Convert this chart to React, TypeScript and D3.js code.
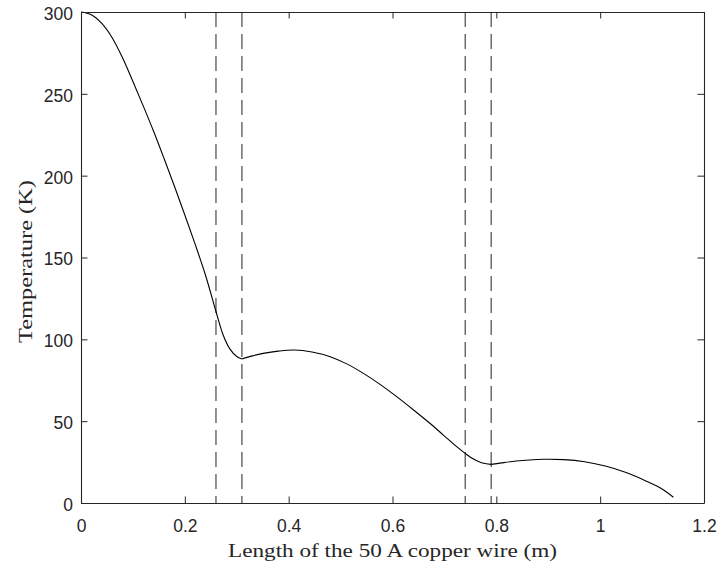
import { useEffect, useRef } from 'react';
import * as d3 from 'd3';

// temperature profile along the wire, split at the cusps (x in m, T in K)
const seg1X = [0, 0.02, 0.04, 0.06, 0.08, 0.1, 0.12, 0.14, 0.16, 0.18, 0.2, 0.22, 0.24, 0.26, 0.274, 0.287, 0.3, 0.31];
const seg1T = [300, 298.3, 293, 284.3, 272, 257.5, 242.5, 227, 210.5, 193.5, 176, 158, 139, 117, 102.5, 94, 89.5, 88];
const seg2X = [0.31, 0.33, 0.351, 0.38, 0.41, 0.445, 0.48, 0.512, 0.544, 0.576, 0.608, 0.64, 0.672, 0.698, 0.7236, 0.74, 0.755, 0.77, 0.79];
const seg2T = [88, 89.9, 91.4, 92.8, 93.5, 92.3, 89.4, 85, 79.2, 72.5, 65, 57, 48.7, 41.5, 34.4, 30.3, 27, 24.8, 23.6];
const seg3X = [0.79, 0.81, 0.85, 0.89, 0.93, 0.97, 1.01, 1.05, 1.09, 1.12, 1.141];
const seg3T = [23.6, 24.5, 26, 26.7, 26.5, 25.2, 22.6, 18.6, 13.2, 8.4, 3.5];

const boundaries = [0.26, 0.31, 0.74, 0.79];
const xTicks = [0, 0.2, 0.4, 0.6, 0.8, 1, 1.2];
const yTicks = [0, 50, 100, 150, 200, 250, 300];

const xLabel = 'Length of the 50 A copper wire (m)';
const yLabel = 'Temperature (K)';

export default function App() {
  const rootRef = useRef<SVGSVGElement | null>(null);

  useEffect(() => {
    const svgEl = rootRef.current;
    if (!svgEl) return undefined;
    const svg = d3.select(svgEl);
    svg.selectAll('*').remove();

    const width = 722;
    const height = 566;
    const margin = { top: 12, right: 18, bottom: 63, left: 81 };
    const chartWidth = width - margin.left - margin.right;
    const chartHeight = height - margin.top - margin.bottom;
    const axisColor = '#262626';
    const tickFont = '"Liberation Sans", Arial, Helvetica, sans-serif';

    const x = d3.scaleLinear().domain([0, 1.2]).range([0, chartWidth]);
    const y = d3.scaleLinear().domain([0, 300]).range([chartHeight, 0]);

    svg.append('rect').attr('width', width).attr('height', height).attr('fill', '#fff');
    const g = svg.append('g').attr('transform', `translate(${margin.left},${margin.top})`);

    // dashed boundaries
    g.selectAll('line.bound')
      .data(boundaries)
      .join('line')
      .attr('class', 'bound')
      .attr('x1', d => x(d))
      .attr('x2', d => x(d))
      .attr('y1', 0)
      .attr('y2', chartHeight)
      .attr('stroke', '#222')
      .attr('stroke-width', 1)
      .attr('stroke-dasharray', '15,7');

    const line = d3
      .line<[number, number]>()
      .x(d => x(d[0]))
      .y(d => y(d[1]))
      .curve(d3.curveCatmullRom.alpha(0.5));

    [
      [seg1X, seg1T],
      [seg2X, seg2T],
      [seg3X, seg3T],
    ].forEach(([xs, ts]) => {
      const pts = xs.map((v, i) => [v, ts[i]] as [number, number]);
      g.append('path')
        .datum(pts)
        .attr('fill', 'none')
        .attr('stroke', '#000')
        .attr('stroke-width', 1.1)
        .attr('stroke-linejoin', 'round')
        .attr('d', line);
    });

    const styleAxis = (sel: d3.Selection<SVGGElement, unknown, null, undefined>) => {
      sel.select('.domain').attr('stroke', axisColor);
      sel.selectAll('.tick line').attr('stroke', axisColor);
      sel
        .selectAll('.tick text')
        .attr('fill', axisColor)
        .attr('font-family', tickFont)
        .attr('font-size', '17.5px');
    };

    const fmt = (d: d3.NumberValue) => String(+d);

    const bottom = g
      .append('g')
      .attr('transform', `translate(0,${chartHeight})`)
      .call(d3.axisBottom(x).tickValues(xTicks).tickSizeInner(-6.5).tickSizeOuter(0).tickPadding(17).tickFormat(fmt));
    bottom.selectAll('.tick text').attr('dy', '0.71em');
    styleAxis(bottom);

    const left = g
      .append('g')
      .call(d3.axisLeft(y).tickValues(yTicks).tickSizeInner(-6.5).tickSizeOuter(0).tickPadding(8).tickFormat(fmt));
    left.selectAll('.tick text').attr('dy', '0.42em');
    styleAxis(left);

    const top = g
      .append('g')
      .call(d3.axisTop(x).tickValues(xTicks).tickSizeInner(-6.5).tickSizeOuter(0).tickFormat(() => ''));
    styleAxis(top);

    const right = g
      .append('g')
      .attr('transform', `translate(${chartWidth},0)`)
      .call(d3.axisRight(y).tickValues(yTicks).tickSizeInner(-6.5).tickSizeOuter(0).tickFormat(() => ''));
    styleAxis(right);

    svg.selectAll('.domain').attr('stroke-width', 1.1);

    // axis titles
    svg
      .append('text')
      .attr('x', margin.left + chartWidth / 2)
      .attr('y', 557)
      .attr('text-anchor', 'middle')
      .attr('font-family', '"Liberation Serif", "Times New Roman", serif')
      .attr('font-size', '19px')
      .attr('fill', axisColor)
      .attr('textLength', 329)
      .attr('lengthAdjust', 'spacingAndGlyphs')
      .text(xLabel);

    svg
      .append('text')
      .attr('transform', `translate(32,${margin.top + chartHeight / 2 + 4}) rotate(-90)`)
      .attr('text-anchor', 'middle')
      .attr('font-family', '"Liberation Serif", "Times New Roman", serif')
      .attr('font-size', '19px')
      .attr('fill', axisColor)
      .attr('textLength', 163)
      .attr('lengthAdjust', 'spacingAndGlyphs')
      .text(yLabel);

    return () => {
      svg.selectAll('*').remove();
    };
  }, []);

  return (
    <svg
      ref={rootRef}
      width={722}
      height={566}
      style={{ position: 'absolute', left: 0, top: 0, display: 'block' }}
    />
  );
}
